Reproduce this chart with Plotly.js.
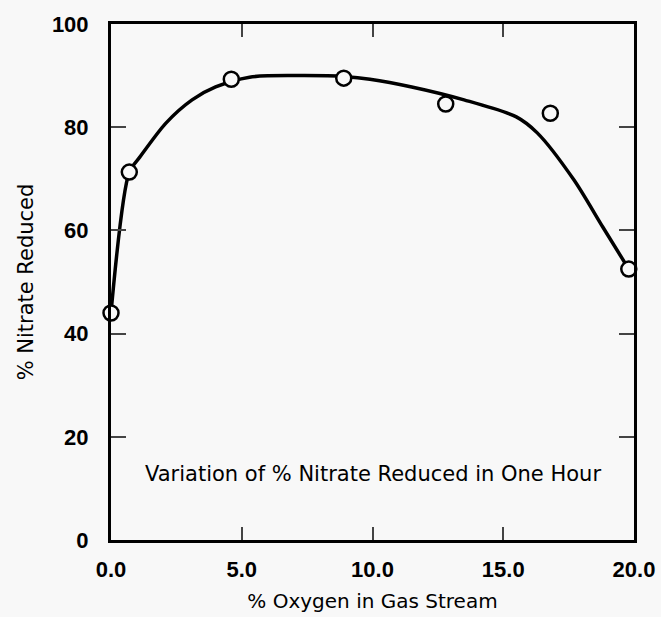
<!DOCTYPE html>
<html>
<head>
<meta charset="utf-8">
<script src="https://cdn.plot.ly/plotly-3.0.1.min.js"></script>
<style>html,body{margin:0;padding:0;background:#f8f8f8;}</style>
</head>
<body>
<div id="chart" style="width:661px;height:617px;"></div>
<script>
// Measured points
const oxygenPct = [0.0, 0.7, 4.6, 8.9, 12.8, 16.8, 19.8];
const nitrateReduced = [44.0, 71.3, 89.3, 89.5, 84.5, 82.7, 52.5];
// Hand-drawn fitted curve
const curveX = [0.0, 0.7, 1.1, 2.1, 3.1, 4.0, 5.3, 7.0, 9.0, 9.9, 11.5, 13.5, 15.5, 16.3, 17.7, 18.8, 19.8];
const curveY = [44.0, 71.3, 74.2, 80.8, 85.3, 87.8, 89.7, 90.0, 89.8, 89.3, 87.8, 85.3, 82.0, 78.9, 69.8, 60.7, 52.5];
const xTicks = [0, 5, 10, 15, 20];
const xTickText = ['0.0', '5.0', '10.0', '15.0', '20.0'];
const yTicks = [0, 20, 40, 60, 80, 100];

const tickFam = 'Liberation Sans, Arial, sans-serif';
const textFam = 'DejaVu Sans, sans-serif';
const traces = [
  {x: curveX, y: curveY, mode: 'lines', type: 'scatter',
   line: {color: '#000', width: 3.5, shape: 'spline', smoothing: 0.8},
   hoverinfo: 'skip', showlegend: false, cliponaxis: false},
  {x: oxygenPct, y: nitrateReduced, mode: 'markers', type: 'scatter',
   marker: {symbol: 'circle', size: 15, color: '#f8f8f8', line: {color: '#000', width: 2.5}},
   showlegend: false, cliponaxis: false}
];
const layout = {
  width: 661, height: 617,
  margin: {l: 111, r: 27, t: 24, b: 77},
  paper_bgcolor: '#f8f8f8', plot_bgcolor: '#f8f8f8',
  font: {family: textFam, color: '#000'},
  xaxis: {range: [0, 20], tickvals: xTicks, ticktext: xTickText, ticks: 'inside', ticklen: 13, tickwidth: 2,
          showline: true, linewidth: 3, linecolor: '#000', mirror: 'ticks', showgrid: false, zeroline: false,
          tickfont: {size: 22, family: tickFam, weight: 'bold'}, ticklabelstandoff: 8,
          title: {text: '% Oxygen in Gas Stream', font: {size: 20, family: textFam}, standoff: 13}},
  yaxis: {range: [0, 100], tickvals: yTicks, ticks: 'inside', ticklen: 15, tickwidth: 2,
          showline: true, linewidth: 3, linecolor: '#000', mirror: 'ticks', showgrid: false, zeroline: false,
          tickfont: {size: 22, family: tickFam, weight: 'bold'}, ticklabelstandoff: 15,
          title: {text: '% Nitrate Reduced', font: {size: 21, family: textFam}, standoff: 13}},
  annotations: [{x: 0.5, y: 12.8, xref: 'paper', yref: 'y', text: 'Variation of % Nitrate Reduced in One Hour',
                 showarrow: false, font: {size: 21, family: textFam}, xanchor: 'center'}]
};
Plotly.newPlot('chart', traces, layout, {displayModeBar: false, staticPlot: true});
</script>
</body>
</html>
